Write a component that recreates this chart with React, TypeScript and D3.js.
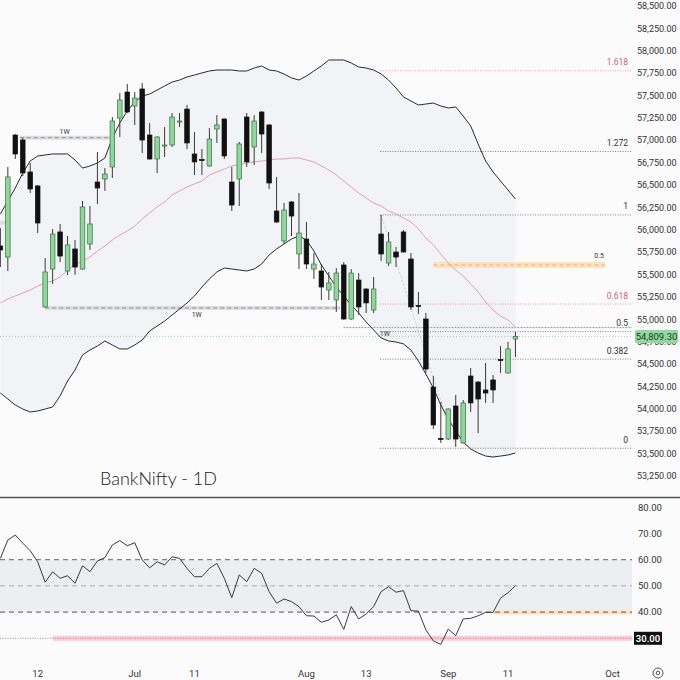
import React from "react";
import * as d3 from "d3";

// candle index 0 = 12 Jun; first visible candle is index -5
const FIRST_INDEX = -5;

const opens = [
  55819, 55696, 57059, 57003, 56646, 56490, 55138, 55562, 55976, 55540,
  55786, 55562, 55842, 56534, 56568, 56702, 57249, 57539, 57383, 57573,
  57059, 56791, 56936, 56947, 57204, 57349, 56847, 56785, 56713, 57126,
  57238, 56534, 56568, 57260, 56925, 57316, 57171, 56210, 55875, 56311,
  55730, 55897, 55562, 55540, 55328, 55216, 55607, 55004, 55439, 55339,
  55104, 55953, 55629, 55752, 55976, 55674, 55155, 55004, 54244, 53670,
  53663, 54032, 53619, 54367, 54300, 54211, 54323, 54551, 54401, 54780,
];
const highs = [
  56020, 56702, 57070, 57026, 56746, 56500, 55685, 56009, 56065, 55931,
  55886, 56322, 56266, 56869, 56690, 57260, 57528, 57629, 57539, 57640,
  57193, 57045, 57148, 57305, 57305, 57394, 57093, 56903, 57137, 57282,
  57245, 56702, 56981, 57305, 57282, 57325, 57180, 56590, 56300, 56320,
  56411, 56087, 55741, 55618, 55529, 55573, 55640, 55562, 55517, 55345,
  55473, 56166, 55976, 55808, 55998, 55741, 55305, 55071, 54367, 54077,
  54005, 54155, 54099, 54456, 54310, 54512, 54378, 54702, 54747, 54859,
];
const lows = [
  55585, 55540, 56791, 56601, 56411, 55964, 55130, 55395, 55640, 55495,
  55495, 55555, 55775, 56288, 56434, 56579, 57037, 57305, 57171, 56858,
  56785, 56635, 56813, 56925, 57148, 56903, 56612, 56612, 56705, 56970,
  56791, 56210, 56266, 56702, 56724, 56858, 56456, 56080, 55842, 55931,
  55562, 55562, 55451, 55216, 55216, 55082, 54995, 54995, 55048, 55071,
  55071, 55652, 55596, 55584, 55745, 55104, 55060, 54401, 53775, 53619,
  53652, 53574, 53612, 53965, 53730, 54066, 54066, 54401, 54395, 54579,
];
const closes = [
  55775, 56590, 56847, 56635, 56456, 56076, 55529, 55953, 55707, 55831,
  55584, 56255, 56065, 56467, 56623, 57215, 57450, 57316, 57472, 57003,
  56791, 57037, 56947, 57260, 57215, 56970, 56758, 56775, 57014, 57171,
  56825, 56277, 56959, 56758, 57215, 57070, 56523, 56087, 56221, 56154,
  55964, 55618, 55618, 55361, 55406, 55517, 55004, 55517, 55138, 55183,
  55339, 55730, 55864, 55696, 55752, 55138, 55149, 54445, 53820, 53663,
  53999, 53663, 54066, 54066, 54110, 54177, 54211, 54541, 54669, 54809.3,
];

// Bollinger bands (20)
const bbUpper = [
  56177, 56322, 56467, 56635, 56769, 56824, 56836, 56847, 56847, 56847,
  56780, 56690, 56713, 56746, 56802, 57026, 57193, 57327, 57428, 57495,
  57517, 57562, 57606, 57651, 57673, 57707, 57729, 57752, 57774, 57785,
  57785, 57785, 57774, 57774, 57807, 57830, 57785, 57774, 57740, 57696,
  57673, 57718, 57774, 57830, 57897, 57897, 57897, 57863, 57819, 57807,
  57785, 57740, 57673, 57584, 57484, 57439, 57394, 57405, 57416, 57383,
  57361, 57372, 57271, 57160, 56959, 56769, 56646, 56545, 56445, 56344,
];
const bbMid = [
  55182, 55227, 55261, 55294, 55328, 55372, 55406, 55428, 55473, 55551,
  55607, 55652, 55696, 55763, 55819, 55886, 55942, 55987, 56043, 56121,
  56188, 56255, 56311, 56389, 56434, 56478, 56512, 56545, 56612, 56646,
  56679, 56713, 56724, 56746, 56757, 56769, 56780, 56791, 56791, 56802,
  56802, 56780, 56757, 56713, 56668, 56612, 56545, 56478, 56411, 56355,
  56299, 56266, 56210, 56177, 56132, 56087, 56009, 55909, 55830, 55730,
  55629, 55551, 55484, 55395, 55305, 55194, 55104, 55037, 54993, 54914,
];
const bbLower = [
  54177, 54110, 54043, 53998, 53965, 53976, 53998, 54021, 54144, 54311,
  54434, 54602, 54657, 54702, 54758, 54713, 54669, 54669, 54713, 54769,
  54870, 54926, 54981, 55048, 55115, 55182, 55261, 55361, 55451, 55529,
  55573, 55562, 55551, 55540, 55562, 55618, 55719, 55786, 55842, 55897,
  55931, 55886, 55763, 55607, 55484, 55361, 55261, 55160, 55071, 54970,
  54881, 54792, 54758, 54747, 54725, 54657, 54535, 54389, 54233, 54043,
  53887, 53753, 53630, 53552, 53507, 53473, 53462, 53473, 53485, 53507,
];

const rsi = [
  60.5, 67.5, 69.4, 66.3, 63.4, 59.2, 51.4, 55.4, 52.9, 53.9,
  51.0, 57.7, 55.4, 59.5, 60.8, 65.6, 67.3, 65.3, 66.5, 59.9,
  56.9, 59.2, 58.0, 61.1, 60.5, 56.7, 53.5, 53.5, 56.7, 58.6,
  52.9, 45.5, 54.2, 51.6, 56.7, 54.8, 47.8, 43.4, 45.0, 44.0,
  42.1, 38.6, 38.5, 36.1, 37.0, 39.0, 33.4, 42.1, 37.4, 39.3,
  42.1, 47.8, 49.7, 47.6, 48.2, 40.5, 40.4, 33.2, 29.0, 27.7,
  33.5, 31.0, 37.4, 37.6, 38.6, 39.9, 39.9, 45.3, 47.4, 50.1,
];

const dateTickIndex = [0, 13, 21, 36, 44, 55, 63, 77];
const dateTickLabels = ["12", "Jul", "11", "Aug", "13", "Sep", "11", "Oct"];

const priceTicks = d3.range(53250, 58501, 250);
const rsiTicks = [80, 70, 60, 50, 40];

// fibonacci retracement drawn from the swing high (idx 46) to the low (idx 56)
const FIB_HIGH = 56166;
const FIB_LOW = 53560;
const fibLevels = [1.618, 1.272, 1, 0.618, 0.5, 0.382, 0];
const fibPink = [1.618, 0.618];

// weekly levels: [price, fromIndex, toIndex, labelIndex]
const weeklyLevels = [
  [57029, -2.4, 10, 3.6],
  [55127, 1, 40.5, 21.3],
  [54909, 41, 80, 46.5],
];
const orangeZone = 55607;

const LAST = 54809.3;

const fmtPrice = d3.format(",.2f");
const FONT = "Roboto, 'DejaVu Sans', sans-serif";

export default function App() {
  const PLOT_R = 632;
  const x = d3.scaleLinear().domain([0, 63]).range([37.7, 508]);
  const y = d3.scaleLinear().domain([53250, 58500]).range([476, 6]);
  const yr = d3.scaleLinear().domain([30, 80]).range([638.3, 507.3]);
  const idx = closes.map((_, i) => FIRST_INDEX + i);

  const bandArea = d3
    .area<number>()
    .x((i) => x(idx[i]))
    .y0((i) => y(bbLower[i]))
    .y1((i) => y(bbUpper[i]));
  const mkLine = (vals: number[], sc: (v: number) => number) =>
    d3
      .line<number>()
      .x((_, i) => x(idx[i]))
      .y((v) => sc(v))(vals) as string;

  const bw = 4.6;
  const fibY = (l: number) => y(FIB_LOW + (FIB_HIGH - FIB_LOW) * l);
  const fibX0 = x(46) - 1;

  return (
    <svg
      width={680}
      height={680}
      style={{ position: "absolute", left: 0, top: 0, background: "#fbfbfc" }}
      fontFamily={FONT}
    >
      <defs>
        <clipPath id="main">
          <rect x={0} y={0} width={PLOT_R} height={496} />
        </clipPath>
        <clipPath id="rsi">
          <rect x={0} y={498} width={PLOT_R} height={160} />
        </clipPath>
      </defs>

      <g clipPath="url(#main)">
        {/* bollinger band fill */}
        <path d={bandArea(d3.range(closes.length)) as string} fill="#f1f3f6" />

        {/* weekly levels */}
        {weeklyLevels.map(([p, a, b], k) => (
          <g key={k}>
            <line x1={x(a)} x2={Math.min(x(b), PLOT_R)} y1={y(p)} y2={y(p)} stroke="#dcdde0" strokeWidth={k === 2 ? 1.5 : 4} />
            <line x1={x(a)} x2={Math.min(x(b), PLOT_R)} y1={y(p)} y2={y(p)} stroke="#8d8f94" strokeWidth={1} strokeDasharray={k === 2 ? "1 2" : "4 3"} />
          </g>
        ))}
        <line x1={0} x2={6} y1={y(56079)} y2={y(56079)} stroke="#dcdde0" strokeWidth={4} />
        {weeklyLevels.map(([p, , , li], k) => (
          <text key={k} x={x(li)} y={y(p) + (k === 0 ? -4 : 9)} fontSize={7} fill="#333" textAnchor="middle">
            1W
          </text>
        ))}

        {/* fib retracement */}
        <line x1={x(46)} y1={y(FIB_HIGH)} x2={x(56)} y2={y(53574)} stroke="#c9ccd2" strokeDasharray="2 2" />
        {fibLevels.map((l) => {
          const pink = fibPink.includes(l);
          return (
            <g key={l}>
              <line x1={fibX0} x2={PLOT_R} y1={fibY(l)} y2={fibY(l)} stroke={pink ? "#e59aa8" : "#7d7f84"} strokeDasharray="1 1.5" />
              <text x={628} y={fibY(l) - 5.5} fontSize={8.5} textAnchor="end" fill={pink ? "#d0607c" : "#333"}>
                {l}
              </text>
            </g>
          );
        })}
        <rect x={x(53)} width={x(76) - x(53)} y={y(orangeZone) - 3} height={6} fill="#fde3bd" />
        <line x1={x(53)} x2={x(76)} y1={y(orangeZone)} y2={y(orangeZone)} stroke="#e9b06a" strokeDasharray="4 3" />
        <text x={x(76) - 1} y={y(orangeZone) - 7} fontSize={7} textAnchor="end" fill="#333">0.5</text>

        {/* last price line */}
        <line x1={0} x2={PLOT_R} y1={y(LAST)} y2={y(LAST)} stroke="#9ed6a7" strokeDasharray="1 2" />

        {/* band lines */}
        <path d={mkLine(bbUpper, y)} fill="none" stroke="#2b2b2b" strokeWidth={1} />
        <path d={mkLine(bbLower, y)} fill="none" stroke="#2b2b2b" strokeWidth={1} />
        <path d={mkLine(bbMid, y)} fill="none" stroke="#e3a0aa" strokeWidth={1} />

        {/* candles */}
        {closes.map((c, i) => {
          const o = opens[i];
          const up = c >= o;
          const cx = x(idx[i]);
          const top = y(Math.max(o, c));
          const h = Math.max(1, y(Math.min(o, c)) - top);
          return (
            <g key={i}>
              <line x1={cx} x2={cx} y1={y(highs[i])} y2={y(lows[i])} stroke="#3a3a3a" strokeWidth={1} />
              <rect
                x={cx - bw / 2}
                y={top}
                width={bw}
                height={h}
                fill={up ? "#8cd898" : "#111"}
                stroke={up ? "#3f6e47" : "#111"}
                strokeWidth={0.7}
              />
            </g>
          );
        })}
      </g>

      <text x={100} y={485} fontSize={18} fontFamily="Lato, 'Open Sans', sans-serif" fontWeight={300} fill="#222">
        BankNifty - 1D
      </text>

      {/* price axis */}
      {priceTicks.map((p) => (
        <text key={p} x={637} y={y(p) + 3.2} fontSize={9} fill="#333">
          {fmtPrice(p)}
        </text>
      ))}
      <rect x={635} y={y(LAST) - 6.5} width={43} height={13} rx={1.5} fill="#93d99f" />
      <text x={656.5} y={y(LAST) + 3.3} fontSize={9.5} textAnchor="middle" fill="#1d3b22">
        {fmtPrice(LAST)}
      </text>

      {/* separator */}
      <line x1={0} x2={680} y1={497.5} y2={497.5} stroke="#555" strokeWidth={1.6} />

      {/* RSI panel */}
      <g clipPath="url(#rsi)">
        <rect x={0} y={yr(60)} width={PLOT_R} height={yr(40) - yr(60)} fill="#eceef1" />
        <rect x={x(61)} y={yr(40) - 2} width={PLOT_R - x(61)} height={4.5} fill="#fde3bd" />
        <rect x={x(2)} y={yr(30) - 2.5} width={PLOT_R - x(2)} height={5} fill="#f8cdd5" />
        <line x1={x(2)} x2={PLOT_R} y1={yr(30)} y2={yr(30)} stroke="#e07d91" strokeDasharray="1 1.5" />
        <line x1={0} x2={x(2)} y1={yr(30)} y2={yr(30)} stroke="#999" strokeDasharray="1 1.5" />
        <line x1={0} x2={PLOT_R} y1={yr(60)} y2={yr(60)} stroke="#666" strokeDasharray="5 4" />
        <line x1={0} x2={PLOT_R} y1={yr(50)} y2={yr(50)} stroke="#aaa" strokeDasharray="5 4" />
        <line x1={0} x2={PLOT_R} y1={yr(40)} y2={yr(40)} stroke="#555" strokeDasharray="5 4" />
        <path d={mkLine(rsi, yr)} fill="none" stroke="#3a3a3a" strokeWidth={1} />
      </g>
      {rsiTicks.map((v) => (
        <text key={v} x={638} y={yr(v) + 3.2} fontSize={9.5} fill="#333">
          {v.toFixed(2)}
        </text>
      ))}
      <rect x={634} y={yr(30) - 6.5} width={28} height={13} fill="#111" />
      <text x={648} y={yr(30) + 3.5} fontSize={9.5} textAnchor="middle" fill="#fff" fontWeight={600}>
        30.00
      </text>

      {/* date axis */}
      {dateTickIndex.map((d, k) => (
        <text key={k} x={x(d)} y={677} fontSize={9.5} textAnchor="middle" fill="#333">
          {dateTickLabels[k]}
        </text>
      ))}
      <circle cx={658} cy={673} r={5} fill="none" stroke="#555" strokeWidth={1} />
      <circle cx={658} cy={673} r={1.8} fill="none" stroke="#555" strokeWidth={1} />
    </svg>
  );
}
